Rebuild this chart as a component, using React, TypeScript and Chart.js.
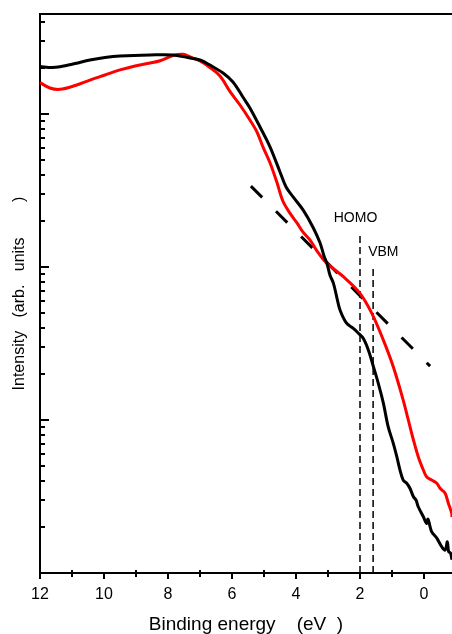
import React, { useEffect, useRef } from "react";
import { Chart, registerables } from "chart.js";

Chart.register(...registerables);

// Black spectrum (binding energy in eV, intensity in arb. units)
const blackEnergy = [
  12.0, 11.63, 11.375, 10.9, 10.44, 9.97, 9.5, 8.56, 7.84, 7.31, 7.0, 6.69, 6.28, 5.97,
  5.66, 5.44, 5.125, 4.81, 4.5, 4.31, 4.09, 3.78, 3.47, 3.25, 3.125, 3.03, 2.94, 2.83,
  2.72, 2.625, 2.42, 2.21, 2.05, 1.9, 1.74, 1.58, 1.43, 1.27, 1.12, 0.96, 0.85, 0.75,
  0.65, 0.54, 0.44, 0.33, 0.25, 0.18, 0.02, -0.08, -0.125, -0.19, -0.24, -0.4, -0.55,
  -0.66, -0.73, -0.77, -0.83, -0.875,
];
const blackIntensity = [
  2042, 2014, 2037, 2138, 2254, 2340, 2393, 2432, 2432, 2323, 2254, 2089, 1854, 1618,
  1291, 1094, 822, 608, 418, 333, 287, 236, 182, 144, 118, 105, 88.7, 78.2,
  62.7, 52.4, 42.9, 39.7, 36.9, 34.2, 28.7, 22.3, 17.4, 12.9, 9.04, 7.04, 5.76, 4.71,
  4.05, 3.86, 3.58, 3.15, 3.0, 2.71, 2.33, 2.11, 2.25, 2.01, 1.86, 1.69, 1.49,
  1.41, 1.6, 1.38, 1.35, 1.22,
];

// Red spectrum
const redEnergy = [
  12.0, 11.69, 11.375, 10.9, 10.44, 9.97, 9.5, 9.03, 8.56, 8.25, 7.84, 7.53, 7.31, 7.0,
  6.69, 6.375, 6.06, 5.75, 5.44, 5.22, 5.03, 4.81, 4.59, 4.41, 4.19, 3.97, 3.78, 3.56,
  3.34, 3.04, 2.52, 2.0, 1.63, 1.27, 0.96, 0.65, 0.49, 0.33, 0.18, 0.02, -0.08, -0.24,
  -0.4, -0.5, -0.66, -0.76, -0.865, -0.875,
];
const redIntensity = [
  1603, 1479, 1449, 1535, 1667, 1798, 1941, 2060, 2153, 2228, 2410, 2455, 2359, 2219,
  2014, 1770, 1400, 1145, 914, 763, 608, 478, 354, 270, 225, 194, 169, 150,
  127, 106, 86.4, 67.3, 49.8, 33.3, 22.3, 13.5, 10, 7.4, 5.76, 4.71, 4.26, 4.05,
  3.86, 3.58, 3.32, 2.86, 2.46, 2.32,
];

// Linear (in log) extrapolation line
const fitEnergy = [5.41, -0.19];
const fitIntensity = [338, 22.5];

// HOMO / VBM markers
const homoEnergy = [2.0, 2.0];
const homoIntensity = [1, 164];
const vbmEnergy = [1.59, 1.59];
const vbmIntensity = [1, 100];

const labelTexts = ["HOMO", "VBM"];
const labelEnergy = [2.14, 1.27];
const labelIntensity = [210, 125];

// Axes
const xTicks = [12, 10, 8, 6, 4, 2, 0];
const xTickLabels = ["12", "10", "8", "6", "4", "2", "0"];
const xMinorTicks = [11, 9, 7, 5, 3, 1];
const xMin = -0.875;
const xMax = 12;
const yMin = 1;
const yMax = 4504;
const yDecades = [1, 10, 100, 1000];
const yMultipliers = [1, 2, 3, 4, 5, 6, 7, 8, 9];

const toPoints = (xs: number[], ys: number[]) => xs.map((x, i) => ({ x, y: ys[i] }));

const decorPlugin = {
  id: "decor",
  afterDraw(chart: any) {
    const { ctx, chartArea: a, scales } = chart;
    const xs = scales.x;
    const ys = scales.y;
    ctx.save();
    ctx.strokeStyle = "#000";
    ctx.fillStyle = "#000";
    // top frame line
    ctx.lineWidth = 2;
    ctx.beginPath();
    ctx.moveTo(a.left - 1, a.top);
    ctx.lineTo(a.right, a.top);
    ctx.stroke();
    // y ticks (inward)
    for (const d of yDecades) {
      for (const k of yMultipliers) {
        const v = k * d;
        if (v < yMin || v > yMax) continue;
        const py = Math.round(ys.getPixelForValue(v));
        const len = k === 1 ? 9 : 5;
        ctx.beginPath();
        ctx.moveTo(a.left, py);
        ctx.lineTo(a.left + len, py);
        ctx.stroke();
      }
    }
    // x ticks (outward)
    for (const v of xTicks) {
      const px = Math.round(xs.getPixelForValue(v));
      ctx.beginPath();
      ctx.moveTo(px, a.bottom);
      ctx.lineTo(px, a.bottom + 6);
      ctx.stroke();
    }
    for (const v of xMinorTicks) {
      const px = Math.round(xs.getPixelForValue(v));
      ctx.beginPath();
      ctx.moveTo(px, a.bottom - 3);
      ctx.lineTo(px, a.bottom + 4);
      ctx.stroke();
    }
    // labels
    ctx.font = '14px "Liberation Sans", Arial, sans-serif';
    ctx.textAlign = "center";
    ctx.textBaseline = "middle";
    labelTexts.forEach((t, i) => {
      ctx.fillText(t, xs.getPixelForValue(labelEnergy[i]), ys.getPixelForValue(labelIntensity[i]));
    });
    ctx.restore();
  },
};

export default function App() {
  const ref = useRef<HTMLCanvasElement | null>(null);
  useEffect(() => {
    if (!ref.current) return;
    Chart.defaults.font.family = '"Liberation Sans", Arial, sans-serif';
    const chart = new Chart(ref.current, {
      type: "line",
      data: {
        datasets: [
          {
            data: toPoints(blackEnergy, blackIntensity),
            borderColor: "#000",
            borderWidth: 3,
            pointRadius: 0,
            tension: 0.35,
          },
          {
            data: toPoints(redEnergy, redIntensity),
            borderColor: "#ff0000",
            borderWidth: 3,
            pointRadius: 0,
            tension: 0.35,
          },
          {
            data: toPoints(fitEnergy, fitIntensity),
            borderColor: "#000",
            borderWidth: 3,
            borderDash: [16, 19.6],
            pointRadius: 0,
          },
          {
            data: toPoints(homoEnergy, homoIntensity),
            borderColor: "#000",
            borderWidth: 1.5,
            borderDash: [7, 4],
            pointRadius: 0,
          },
          {
            data: toPoints(vbmEnergy, vbmIntensity),
            borderColor: "#000",
            borderWidth: 1.5,
            borderDash: [7, 4],
            pointRadius: 0,
          },
        ],
      },
      options: {
        animation: false,
        responsive: false,
        devicePixelRatio: 1,
        layout: { padding: { top: 14, left: 0, right: 0, bottom: 0 } },
        plugins: { legend: { display: false }, tooltip: { enabled: false } },
        scales: {
          x: {
            type: "linear",
            reverse: true,
            min: xMin,
            max: xMax,
            afterBuildTicks: (s: any) => {
              s.ticks = xTicks.map((v) => ({ value: v }));
            },
            afterFit: (s: any) => {
              s.height = 61;
            },
            ticks: {
              color: "#000",
              font: { size: 16 },
              padding: 12,
              maxRotation: 0,
              autoSkip: false,
              callback: (v: any) => {
                const i = xTicks.indexOf(Number(v));
                return i >= 0 ? xTickLabels[i] : "";
              },
            },
            grid: { display: false, drawTicks: false },
            border: { display: true, color: "#000", width: 2 },
            title: {
              display: true,
              text: "Binding energy    (eV  )",
              color: "#000",
              font: { size: 19, lineHeight: 1 },
              padding: { top: 0, bottom: 0 },
            },
          },
          y: {
            type: "logarithmic",
            min: yMin,
            max: yMax,
            afterFit: (s: any) => {
              s.width = 40;
            },
            ticks: { display: false },
            grid: { display: false, drawTicks: false },
            border: { display: true, color: "#000", width: 2 },
            title: {
              display: true,
              text: "Intensity   (arb.   units        )",
              color: "#000",
              font: { size: 16, lineHeight: 1 },
              padding: { top: 12, bottom: 0 },
            },
          },
        },
      },
      plugins: [decorPlugin],
    } as any);
    return () => chart.destroy();
  }, []);
  return (
    <div
      style={{
        position: "absolute",
        left: 0,
        top: 0,
        width: 452,
        height: 634,
        overflow: "hidden",
        background: "#fff",
      }}
    >
      <canvas ref={ref} width={452} height={634} style={{ width: 452, height: 634, display: "block" }} />
    </div>
  );
}
